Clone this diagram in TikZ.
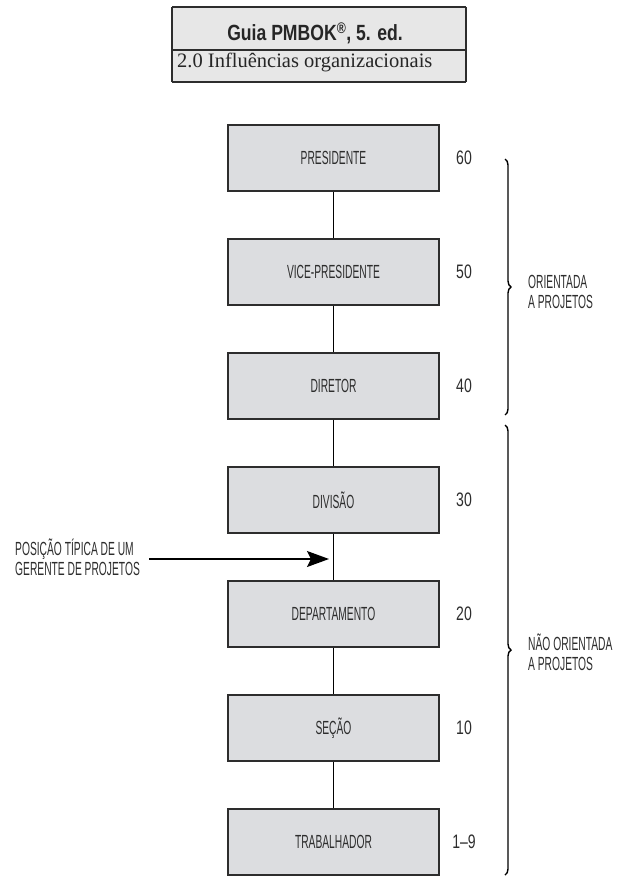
\documentclass[tikz,border=0pt]{standalone}
\usepackage{fontspec}
\setmainfont{Liberation Serif}
\newfontfamily\condfont[FakeStretch=0.54]{Liberation Sans}
\newfontfamily\numfont[FakeStretch=0.72]{Liberation Sans}
\newfontfamily\titlefont[FakeStretch=0.8]{Liberation Sans}
\usetikzlibrary{arrows.meta,decorations.pathreplacing}
\definecolor{boxgray}{RGB}{220,221,224}
\definecolor{headgray}{RGB}{231,231,231}
\definecolor{inkgray}{RGB}{45,45,45}
\begin{document}
\begin{tikzpicture}[x=1pt,y=-1pt,
  rolebox/.style={draw=inkgray, line width=1.4pt, fill=boxgray,
    minimum width=211pt, minimum height=66pt, inner sep=0pt,
    text=inkgray, font=\condfont\fontsize{19}{20}\selectfont},
  ranknum/.style={text=inkgray, inner sep=0pt, font=\numfont\fontsize{19.5}{20}\selectfont},
  sidenote/.style={text=inkgray, align=left, inner sep=0pt,
    font=\condfont\fontsize{19}{20}\selectfont},
  link/.style={draw=black, line width=1.1pt},
  bracket/.style={draw=black, line width=1.4pt, decorate,
    decoration={brace, amplitude=6pt}}
]
\useasboundingbox (0,0) rectangle (624,893);

% header panel
\fill[headgray] (172,7) rectangle (466,82);
\draw[inkgray, line width=1.8pt] (172,7) -- (466,7);
\draw[inkgray, line width=1.8pt] (172,82) -- (466,82);
\draw[inkgray, line width=1.2pt] (172,50) -- (466,50);
\draw[inkgray, line width=1.2pt] (466,7) -- (466,82);
\draw[inkgray, line width=1.2pt] (172,7) -- (172,82);
\node[anchor=base, inner sep=0pt, text=black!85,
  font=\titlefont\bfseries\fontsize{22}{24}\selectfont] (title) at (315,41)
  {Guia PMBOK\textsuperscript{®}, 5. ed.};
\node[anchor=base west, inner sep=0pt, text=black!85,
  font=\fontsize{20.5}{22}\selectfont] (subtitle) at (177,68)
  {2.0 Influências organizacionais};

% hierarchy levels
\node[rolebox] (pres) at (333.5,158) {PRESIDENTE};
\node[rolebox] (vice) at (333.5,272) {VICE-PRESIDENTE};
\node[rolebox] (dir)  at (333.5,386) {DIRETOR};
\node[rolebox] (div)  at (333.5,500) {DIVISÃO};
\node[rolebox] (dep)  at (333.5,614) {DEPARTAMENTO};
\node[rolebox] (sec)  at (333.5,728) {SEÇÃO};
\node[rolebox] (trab) at (333.5,842) {TRABALHADOR};

\draw[link] (pres) -- (vice);
\draw[link] (vice) -- (dir);
\draw[link] (dir) -- (div);
\draw[link] (div) -- (dep);
\draw[link] (dep) -- (sec);
\draw[link] (sec) -- (trab);

% level numbers
\node[ranknum] (n60) at (464,158) {60};
\node[ranknum] (n50) at (464,272) {50};
\node[ranknum] (n40) at (464,386) {40};
\node[ranknum] (n30) at (464,500) {30};
\node[ranknum] (n20) at (464,614) {20};
\node[ranknum] (n10) at (464,728) {10};
\node[ranknum] (n1)  at (464,842) {1–9};

% typical project manager position
\node[sidenote, anchor=west] (pm) at (15,557.5)
  {POSIÇÃO TÍPICA DE UM\\GERENTE DE PROJETOS};
\coordinate (pmtip) at (329,559);
\draw[link, line width=1.3pt, -{Stealth[length=22pt,width=16pt,inset=4pt]}]
  ([xshift=9pt]pm.east |- pmtip) -- (pmtip);

% orientation braces
\coordinate (ua) at (505,159);
\coordinate (ub) at (505,415);
\coordinate (la) at (505,425);
\coordinate (lb) at (505,875);
\draw[bracket] (ua) -- (ub);
\draw[bracket] (la) -- (lb);
\node[sidenote, anchor=west] (orient) at (528,292) {ORIENTADA\\A PROJETOS};
\node[sidenote, anchor=west] (norient) at (528,652) {NÃO ORIENTADA\\A PROJETOS};
\end{tikzpicture}
\end{document}
